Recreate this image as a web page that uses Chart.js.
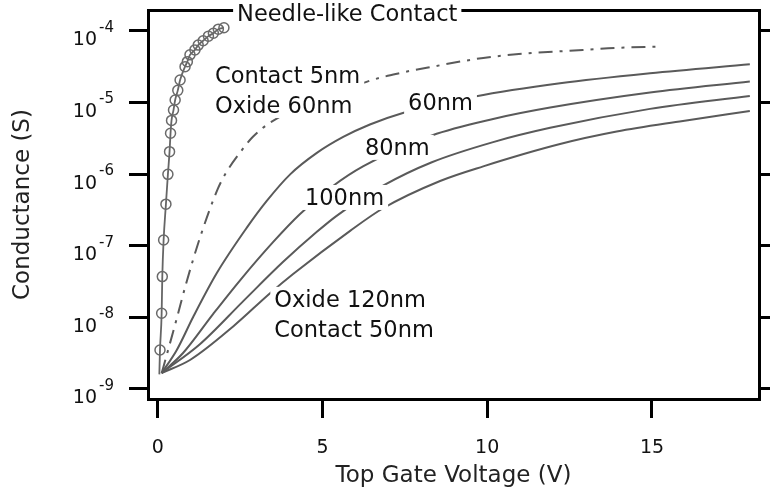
<!DOCTYPE html>
<html>
<head>
<meta charset="utf-8">
<script src="https://cdn.jsdelivr.net/npm/chart.js@4.4.1/dist/chart.umd.min.js"></script>
<style>
  html, body { margin: 0; padding: 0; background: #fff; }
</style>
</head>
<body>
<canvas id="chart" width="770" height="498"></canvas>
<script>
// Gate voltage (V) and conductance (S)

// needle-like contact (line + circles), first point is the line start only
const needleV = [0.05, 0.07, 0.12, 0.14, 0.18, 0.25, 0.31, 0.36, 0.39, 0.42, 0.48, 0.53, 0.61, 0.68, 0.83, 0.90, 0.98, 1.13, 1.23, 1.38, 1.54, 1.69, 1.84, 2.01];
const needleG = [1.6e-9, 3.5e-9, 1.14e-8, 3.7e-8, 1.2e-7, 3.8e-7, 9.9e-7, 2.05e-6, 3.7e-6, 5.6e-6, 7.8e-6, 1.08e-5, 1.47e-5, 2.05e-5, 3.15e-5, 3.7e-5, 4.6e-5, 5.4e-5, 6.3e-5, 7.25e-5, 8.4e-5, 9.2e-5, 1.05e-4, 1.10e-4];

// contact 5nm, oxide 60nm (dash-dot)
const c5V = [0.12, 0.35, 0.6, 0.85, 1.29, 1.83, 2.09, 2.5, 2.89, 3.46, 6.36, 7.36, 8.36, 9.88, 11.4, 12.9, 13.9, 15.3];
const c5G = [1.66e-9, 3.98e-9, 1.05e-8, 2.82e-8, 1.32e-7, 6.3e-7, 1.07e-6, 2.0e-6, 3.31e-6, 5.37e-6, 1.95e-5, 2.57e-5, 3.16e-5, 4.17e-5, 4.9e-5, 5.37e-5, 5.75e-5, 6.03e-5];

// contact 50nm, oxide 60 / 80 / 100 / 120 nm
const ox60V = [0.12, 0.58, 1.08, 1.79, 2.70, 3.31, 4.02, 4.83, 5.63, 6.44, 7.44, 9.63, 12.21, 14.94, 17.97];
const ox60G = [1.67e-9, 3.51e-9, 1.02e-8, 4.12e-8, 1.77e-7, 4.21e-7, 9.89e-7, 1.97e-6, 3.29e-6, 4.91e-6, 7.11e-6, 1.21e-5, 1.85e-5, 2.55e-5, 3.40e-5];

const ox80V = [0.12, 0.77, 1.68, 2.50, 3.50, 4.32, 5.32, 6.23, 8.32, 10.18, 11.91, 14.94, 17.97];
const ox80G = [1.67e-9, 3.18e-9, 1.11e-8, 3.29e-8, 1.12e-7, 2.77e-7, 6.81e-7, 1.28e-6, 3.45e-6, 5.86e-6, 8.45e-6, 1.37e-5, 1.95e-5];

const ox100V = [0.12, 1.28, 2.59, 3.80, 4.83, 5.43, 6.84, 8.32, 10.18, 11.91, 14.94, 17.97];
const ox100G = [1.67e-9, 4.21e-9, 1.67e-8, 5.90e-8, 1.56e-7, 2.61e-7, 6.87e-7, 1.46e-6, 2.79e-6, 4.41e-6, 8.11e-6, 1.23e-5];

const ox120V = [0.12, 0.98, 2.29, 3.41, 4.11, 5.84, 6.84, 8.57, 9.88, 12.21, 13.93, 15.94, 17.97];
const ox120G = [1.67e-9, 2.54e-9, 7.46e-9, 2.17e-8, 4.02e-8, 1.61e-7, 3.33e-7, 8.0e-7, 1.28e-6, 2.62e-6, 3.91e-6, 5.5e-6, 7.59e-6];

// axis ticks
const xTicks = [0, 5, 10, 15];
const yTicks = [1e-9, 1e-8, 1e-7, 1e-6, 1e-5, 1e-4];

// text in the plot (anchored in data units: x, conductance of first baseline)
const notes = [
  { x: 2.41, y: 1.38e-4, lines: ['Needle-like Contact'] },
  { x: 1.74, y: 1.86e-5, lines: ['Contact 5nm', 'Oxide 60nm'] },
  { x: 7.60, y: 7.83e-6, lines: ['60nm'] },
  { x: 6.29, y: 1.85e-6, lines: ['80nm'] },
  { x: 4.47, y: 3.70e-7, lines: ['100nm'] },
  { x: 3.54, y: 1.40e-8, lines: ['Oxide 120nm', 'Contact 50nm'] }
];

const X_MIN = -0.294, X_MAX = 18.248;
const Y_MIN = 7.25e-10, Y_MAX = 1.945e-4;

function pts(xs, ys) {
  return xs.map((v, i) => ({ x: v, y: ys[i] }));
}

const curveColor = '#5a5a5a';

function solid(data) {
  return {
    data: data,
    showLine: true,
    borderColor: curveColor,
    borderWidth: 2,
    pointRadius: 0,
    cubicInterpolationMode: 'monotone',
    xAxisID: 'x',
    yAxisID: 'y'
  };
}

// labels on the curves and the 10^n tick labels
const textPlugin = {
  id: 'textPlugin',
  afterDatasetsDraw(chart) {
    const ctx = chart.ctx;
    const xs = chart.scales.x, ys = chart.scales.y;
    ctx.save();
    ctx.font = '22.5px "DejaVu Sans"';
    ctx.textAlign = 'left';
    ctx.textBaseline = 'alphabetic';
    notes.forEach(n => {
      const px = xs.getPixelForValue(n.x);
      const py = ys.getPixelForValue(n.y);
      const w = Math.max(...n.lines.map(t => ctx.measureText(t).width));
      ctx.fillStyle = '#fff';
      ctx.fillRect(px - 4, py - 20, w + 8, (n.lines.length - 1) * 30 + 25);
      ctx.fillStyle = '#111';
      n.lines.forEach((t, i) => ctx.fillText(t, px, py + i * 30));
    });
    ctx.restore();
  },
  afterDraw(chart) {
    const ctx = chart.ctx;
    const ys = chart.scales.y;
    const right = ys.right - 51;
    ctx.save();
    ctx.fillStyle = '#111';
    ctx.textBaseline = 'alphabetic';
    yTicks.forEach(v => {
      const py = ys.getPixelForValue(v);
      ctx.font = '19px "DejaVu Sans"';
      ctx.textAlign = 'right';
      ctx.fillText('10', right, py + 14.5);
      ctx.font = '15px "DejaVu Sans"';
      ctx.textAlign = 'left';
      ctx.fillText(String(Math.round(Math.log10(v))), right + 2, py + 1);
    });
    ctx.restore();
  }
};

Chart.defaults.font.family = '"DejaVu Sans", sans-serif';
Chart.defaults.color = '#111';

const frame = { display: true, width: 3, color: '#000' };

new Chart(document.getElementById('chart').getContext('2d'), {
  type: 'scatter',
  data: {
    datasets: [
      {
        data: pts(needleV, needleG),
        showLine: true,
        borderColor: '#666',
        borderWidth: 1.8,
        pointRadius: ctx => (ctx.dataIndex === 0 ? 0 : 5),
        pointBorderColor: '#6a6a6a',
        pointBackgroundColor: 'rgba(0,0,0,0)',
        pointBorderWidth: 1.5,
        cubicInterpolationMode: 'monotone',
        xAxisID: 'x',
        yAxisID: 'y'
      },
      Object.assign(solid(pts(c5V, c5G)), { borderDash: [14, 7, 3, 7] }),
      solid(pts(ox60V, ox60G)),
      solid(pts(ox80V, ox80G)),
      solid(pts(ox100V, ox100G)),
      solid(pts(ox120V, ox120G))
    ]
  },
  options: {
    responsive: false,
    animation: false,
    layout: { padding: 0 },
    plugins: {
      legend: { display: false },
      tooltip: { enabled: false }
    },
    scales: {
      x: {
        type: 'linear',
        position: 'bottom',
        min: X_MIN,
        max: X_MAX,
        bounds: 'data',
        afterBuildTicks: s => { s.ticks = xTicks.map(v => ({ value: v })); },
        afterFit: s => { s.height = 99; },
        grid: { drawOnChartArea: false, drawTicks: true, tickLength: 19, tickWidth: 3, lineWidth: 3, color: '#000', tickColor: '#000' },
        border: frame,
        ticks: { color: '#111', font: { size: 19 }, padding: 19, maxRotation: 0, autoSkip: false, callback: v => String(v) },
        title: { display: true, text: 'Top Gate Voltage (V)', color: '#222', font: { size: 23 }, padding: { top: 0, bottom: 8 } }
      },
      xTop: {
        type: 'linear',
        position: 'top',
        min: X_MIN,
        max: X_MAX,
        bounds: 'data',
        afterFit: s => { s.height = 10; },
        grid: { drawOnChartArea: false, drawTicks: false },
        border: frame,
        ticks: { display: false }
      },
      y: {
        type: 'logarithmic',
        position: 'left',
        min: Y_MIN,
        max: Y_MAX,
        bounds: 'data',
        afterBuildTicks: s => { s.ticks = yTicks.map(v => ({ value: v })); },
        afterFit: s => { s.width = 148; },
        grid: { drawOnChartArea: false, drawTicks: true, tickLength: 19, tickWidth: 3, lineWidth: 3, color: '#000', tickColor: '#000' },
        border: frame,
        ticks: { display: false },
        title: { display: true, text: 'Conductance (S)', color: '#222', font: { size: 23 }, padding: { top: 9, bottom: 0 } }
      },
      yRight: {
        type: 'logarithmic',
        position: 'right',
        min: Y_MIN,
        max: Y_MAX,
        bounds: 'data',
        afterBuildTicks: s => { s.ticks = yTicks.map(v => ({ value: v })); },
        afterFit: s => { s.width = 11; },
        grid: { drawOnChartArea: false, drawTicks: true, tickLength: 11, tickWidth: 3, lineWidth: 3, color: '#000', tickColor: '#000' },
        border: frame,
        ticks: { display: false }
      }
    }
  },
  plugins: [textPlugin]
});
</script>
</body>
</html>
